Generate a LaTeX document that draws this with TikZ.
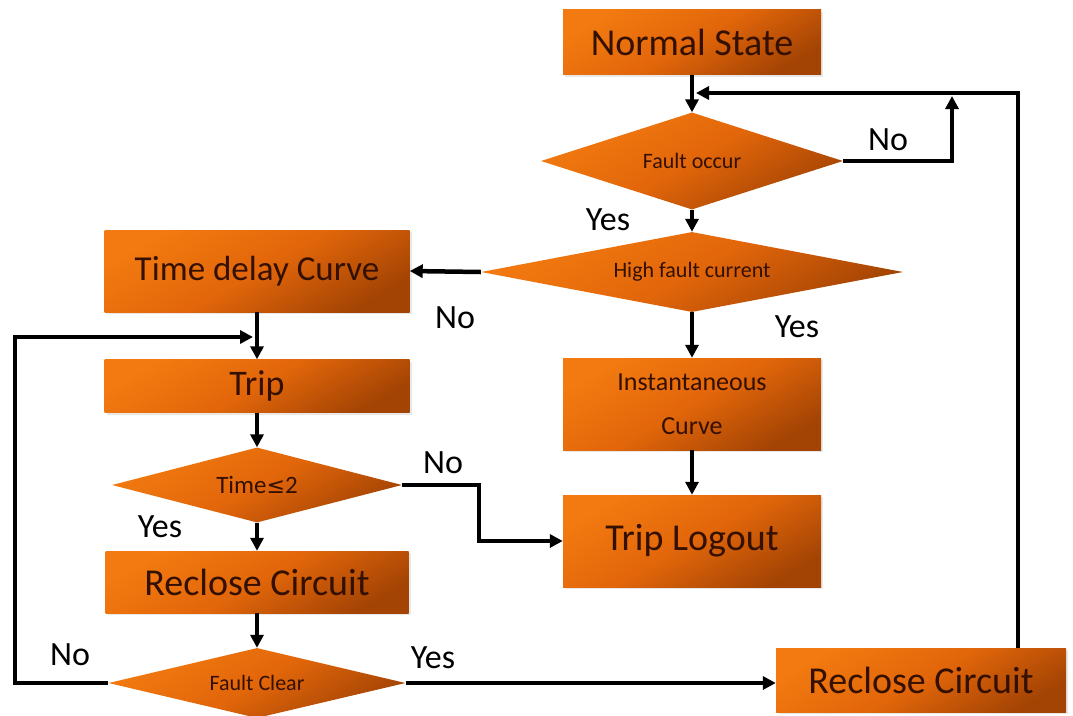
\documentclass[tikz,border=0pt]{standalone}
\usepackage{fontspec}
\setmainfont{Carlito}
\newfontfamily\symfont{DejaVu Sans}
\usetikzlibrary{shapes.geometric, arrows.meta, shadows}

\definecolor{boxlight}{HTML}{F27A10}
\definecolor{boxmid}{HTML}{E2660A}
\definecolor{boxdark}{HTML}{A44404}
\definecolor{boxtext}{HTML}{331000}

\begin{document}
\begin{tikzpicture}[x=1pt, y=-1pt,
  fillshade/.style={top color=boxlight, bottom color=boxdark, middle color=boxmid, shading angle=30, draw=none},
  procbox/.style={rectangle, fillshade, inner sep=0pt, text=boxtext,
    drop shadow={opacity=0.18, shadow xshift=2pt, shadow yshift=-2pt}},
  decision/.style={diamond, fillshade, inner sep=0pt, text=boxtext,
    font=\fontsize{22}{26}\selectfont},
  flow/.style={line width=4.5pt, -{Triangle[length=13pt, width=13pt]}},
  answer/.style={font=\fontsize{34}{40}\selectfont, text=black}
]
\useasboundingbox (0,0) rectangle (1073,715);
\clip (0,0) rectangle (1073,715);

% right column
\node[procbox, minimum width=258pt, minimum height=65pt,
      font=\fontsize{38}{44}\selectfont] (ns) at (692,42) {Normal State};
\node[decision, aspect=3.11, minimum width=302pt, minimum height=97pt] (fo) at (692,161) {Fault occur};
\node[decision, aspect=5.28, minimum width=422pt, minimum height=80pt] (hf) at (692,272) {High fault current};
\node[procbox, minimum width=258pt, minimum height=92pt, align=center,
      font=\fontsize{26}{44}\selectfont] (inst) at (692,404) {Instantaneous\\Curve};
\node[procbox, minimum width=258pt, minimum height=92pt,
      font=\fontsize{38}{44}\selectfont] (tl) at (692,541) {Trip Logout};

% left column
\node[procbox, minimum width=305pt, minimum height=82pt,
      font=\fontsize{35}{42}\selectfont] (td) at (257,271) {Time delay Curve};
\node[procbox, minimum width=305pt, minimum height=53pt,
      font=\fontsize{36}{42}\selectfont] (trip) at (257,386) {Trip};
\node[decision, aspect=3.87, minimum width=290pt, minimum height=75pt,
      font=\fontsize{25}{30}\selectfont] (t2) at (257,485) {Time{\symfont\fontsize{22}{26}\selectfont≤}2};
\node[procbox, minimum width=303pt, minimum height=62pt,
      font=\fontsize{38}{44}\selectfont] (rc1) at (257,582) {Reclose Circuit};
\node[decision, aspect=4.24, minimum width=297pt, minimum height=70pt] (fc) at (257,683) {Fault Clear};

% bottom right
\node[procbox, minimum width=290pt, minimum height=64pt,
      font=\fontsize{38}{44}\selectfont] (rc2) at (921,680) {Reclose Circuit};

% loop corners
\coordinate (rx) at (1018,93);
\coordinate (nx) at (952,93);
\coordinate (lx) at (15,337);

% connectors
\draw[flow] (ns.south) -- (fo.north);
\draw[flow] (rc2.north -| rx) -- (rx) -- ([xshift=4pt]ns.south |- rx);
\draw[flow] (fo.east) -| ([yshift=-3pt]nx);
\draw[flow] (fo.south) -- (hf.north);
\draw[flow] (hf.west) -- (td.east);
\draw[flow] (hf.south) -- (inst.north);
\draw[flow] (inst.south) -- (tl.north);
\draw[flow] (td.south) -- (trip.north);
\draw[flow] (fc.west) -| (lx) -- ([xshift=-4pt]trip.north |- lx);
\draw[flow] (trip.south) -- (t2.north);
\draw[flow] (t2.east) -- ++(77,0) |- (tl.west);
\draw[flow] (t2.south) -- (rc1.north);
\draw[flow] (rc1.south) -- (fc.north);
\draw[flow] (fc.east) -- (fc.east -| rc2.west);

% branch labels
\node[answer] (l1) at (888,140) {No};
\node[answer] (l2) at (608,220) {Yes};
\node[answer] (l3) at (455,318) {No};
\node[answer] (l4) at (797,327) {Yes};
\node[answer] (l5) at (443,463) {No};
\node[answer] (l6) at (160,527) {Yes};
\node[answer] (l7) at (70,655) {No};
\node[answer] (l8) at (433,658) {Yes};
\end{tikzpicture}
\end{document}
